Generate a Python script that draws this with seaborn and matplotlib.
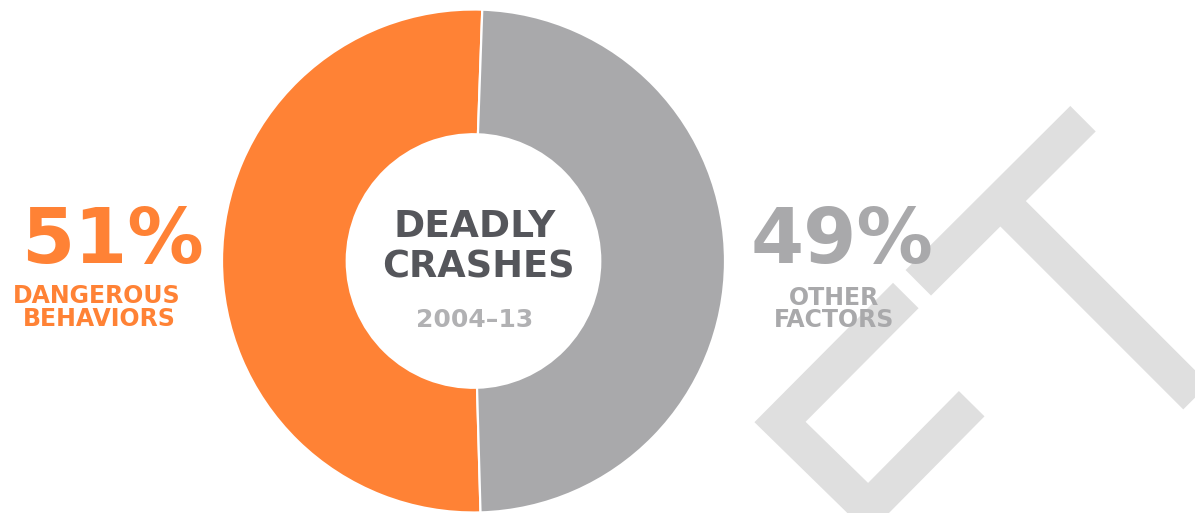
import numpy as np
import matplotlib
matplotlib.use("Agg")
import matplotlib.pyplot as plt
import seaborn as sns

# ---- data ----
categories = ["Dangerous behaviors", "Other factors"]
shares = [51, 49]
pct_labels = ["51%", "49%"]
cat_lines = [["DANGEROUS", "BEHAVIORS"], ["OTHER", "FACTORS"]]
center_title = ["DEADLY", "CRASHES"]
center_sub = "2004–13"

W, H = 1195, 513
ORANGE = "#FF8235"
GREY = "#A9A9AB"
DARK = "#55565B"
LIGHT = "#B1B1B3"
WM = "#DFDFDF"

sns.set_style("white")
plt.rcParams["font.family"] = ["DejaVu Sans"]
palette = sns.color_palette([ORANGE, GREY])

fig = plt.figure(figsize=(W / 100, H / 100), dpi=100)
fig.patch.set_facecolor("white")

# ---- background watermark (decorative strokes, pixel coords) ----
bg = fig.add_axes([0, 0, 1, 1], zorder=0)
bg.set_xlim(0, W)
bg.set_ylim(H, 0)
bg.axis("off")
stroke_px = 36
lw = stroke_px * 72 / 100
strokes = [
    [(1083, 118.7), (918.3, 282.8)],                       # T bar
    [(1000.5, 201.2), (1205, 405.7)],                      # T stem
    [(905.8, 295.5), (780, 422), (868.3, 508.3), (971.7, 403.7)],  # C
]
for s in strokes:
    xs, ys = zip(*s)
    bg.plot(xs, ys, color=WM, lw=lw, solid_capstyle="butt",
            solid_joinstyle="miter", zorder=1)

# ---- donut ----
cx, cy, R = 473.5, 261, 251.5
ax = fig.add_axes([(cx - R) / W, (H - cy - R) / H, 2 * R / W, 2 * R / H], zorder=1)
ax.pie(shares, colors=palette, startangle=88.0, counterclock=True,
       radius=1, wedgeprops=dict(width=0.496, edgecolor="white", linewidth=1.6))
ax.set_xlim(-1, 1)
ax.set_ylim(-1, 1)
ax.set_aspect("equal")
ax.patch.set_alpha(0)
ax.axis("off")

# ---- text layer ----
tx = fig.add_axes([0, 0, 1, 1], zorder=2)
tx.set_xlim(0, W)
tx.set_ylim(H, 0)
tx.axis("off")
tx.patch.set_alpha(0)

big_kw = dict(ha="center", va="baseline", fontsize=55, fontweight="bold")
small_kw = dict(ha="center", va="baseline", fontsize=17, fontweight="bold")

tx.text(112, 263, pct_labels[0], color=ORANGE, **big_kw)
tx.text(97, 303, cat_lines[0][0], color=ORANGE, **small_kw)
tx.text(99, 326, cat_lines[0][1], color=ORANGE, **small_kw)

tx.text(842, 263, pct_labels[1], color=GREY, **big_kw)
tx.text(834, 305, cat_lines[1][0], color=GREY, **small_kw)
tx.text(834, 327, cat_lines[1][1], color=GREY, **small_kw)

tx.text(475, 237, center_title[0], color=DARK, ha="center", va="baseline",
        fontsize=27, fontweight="bold")
tx.text(478, 277, center_title[1], color=DARK, ha="center", va="baseline",
        fontsize=26.5, fontweight="bold")
tx.text(475, 327, center_sub, color=LIGHT, ha="center", va="baseline",
        fontsize=18, fontweight="bold")

fig.savefig("out.png", dpi=100, facecolor="white")
